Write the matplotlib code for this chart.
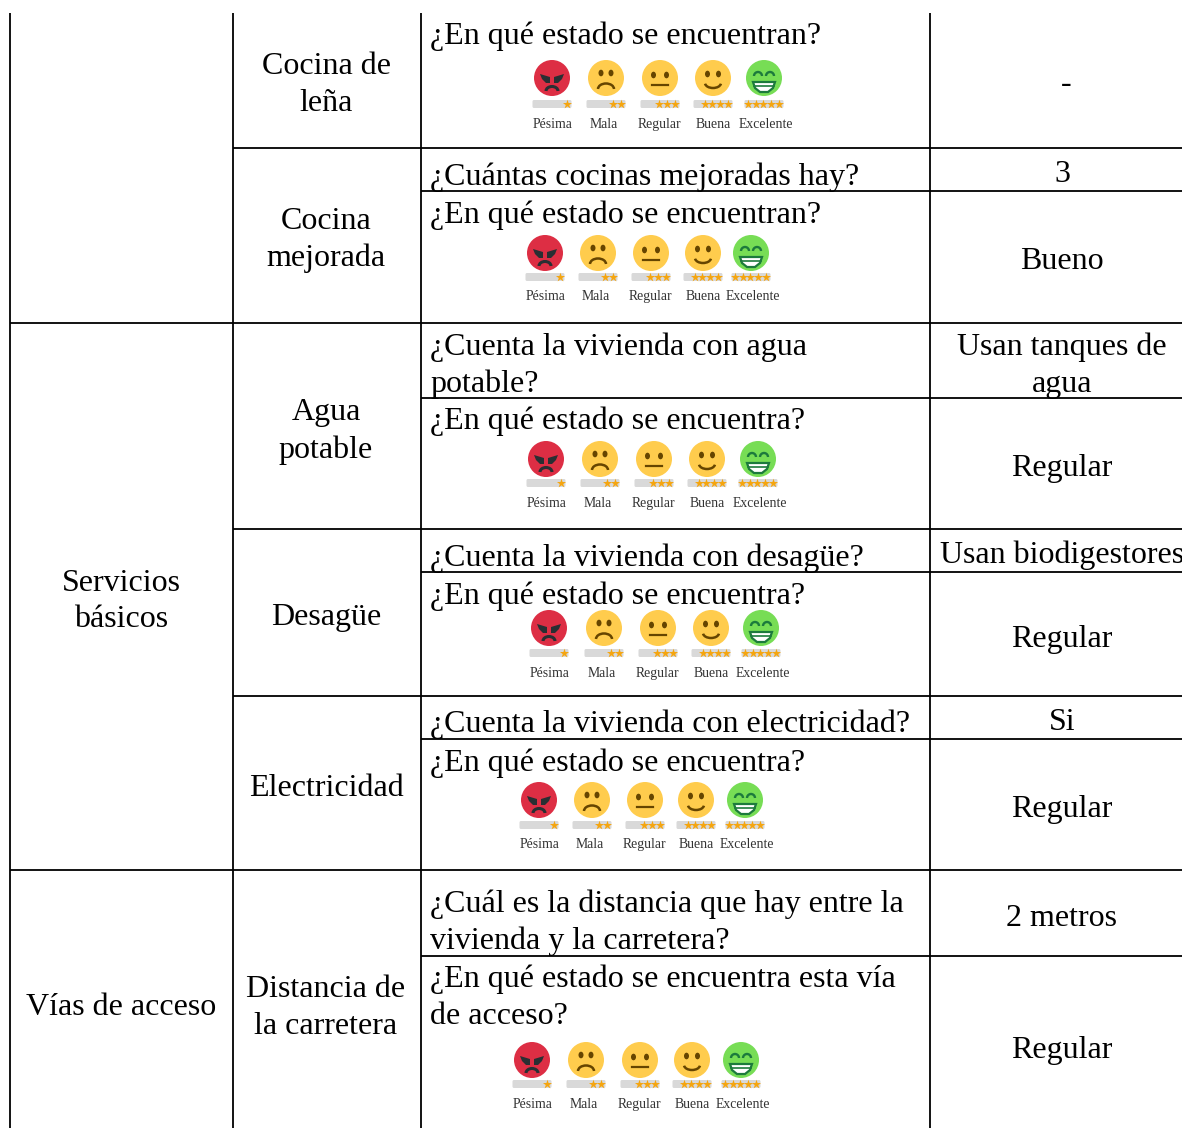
import matplotlib
matplotlib.use('Agg')
import matplotlib.pyplot as plt
from matplotlib.patches import Circle, Arc, Ellipse, FancyBboxPatch, Polygon

plt.rcParams['font.family'] = ['Liberation Serif', 'DejaVu Serif']

# textos de la tabla: (x, y, texto)
centered_cells = [
    (326, 63, 'Cocina de'), (326, 100, 'leña'),
    (326, 218, 'Cocina'), (326, 255, 'mejorada'),
    (326, 409, 'Agua'), (326, 447, 'potable'),
    (326, 614, 'Desagüe'), (326, 785, 'Electricidad'),
    (326, 986, 'Distancia de'), (326, 1023, 'la carretera'),
    (121, 580, 'Servicios'), (121, 616, 'básicos'),
    (121, 1004, 'Vías de acceso'),
    (1066, 81, '-'), (1062, 171, '3'), (1062, 258, 'Bueno'),
    (1062, 344, 'Usan tanques de'), (1062, 381, 'agua'),
    (1062, 465, 'Regular'), (1062, 552, 'Usan biodigestores'),
    (1062, 636, 'Regular'), (1062, 719, 'Si'),
    (1062, 806, 'Regular'), (1062, 915, '2 metros'),
    (1062, 1047, 'Regular'),
]
questions = [
    (33, '¿En qué estado se encuentran?'),
    (174, '¿Cuántas cocinas mejoradas hay?'),
    (212, '¿En qué estado se encuentran?'),
    (344, '¿Cuenta la vivienda con agua'),
    (381, 'potable?'),
    (418, '¿En qué estado se encuentra?'),
    (555, '¿Cuenta la vivienda con desagüe?'),
    (593, '¿En qué estado se encuentra?'),
    (721, '¿Cuenta la vivienda con electricidad?'),
    (760, '¿En qué estado se encuentra?'),
    (901, '¿Cuál es la distancia que hay entre la'),
    (938, 'vivienda y la carretera?'),
    (976, '¿En qué estado se encuentra esta vía'),
    (1013, 'de acceso?'),
]

# lineas de la tabla
v_lines = [(10, 13, 1128), (233, 13, 1128), (421, 13, 1128), (930, 13, 1128)]
h_lines = [(148, 233), (191, 421), (323, 10), (398, 421), (529, 233),
           (572, 421), (696, 233), (739, 421), (870, 10), (956, 421)]

# escalas de caritas: centros x, y de cara, y de barra, y de etiqueta
scale_xs = [
    [552, 606, 660, 713, 764],
    [545, 598, 651, 703, 751],
    [546, 600, 654, 707, 758],
    [549, 604, 658, 711, 761],
    [539, 592, 645, 696, 745],
    [532, 586, 640, 692, 741],
]
scale_face_y = [78, 253, 459, 628, 800, 1060]
scale_bar_y = [104, 277, 483, 653, 825, 1084]
scale_label_y = [124, 296, 503, 673, 844, 1104]
scale_labels = ['Pésima', 'Mala', 'Regular', 'Buena', 'Excelente']
label_shift = [1, -2, -1, 0, 2]
scale_stars = [1, 2, 3, 4, 5]

RED = '#DD2E44'
YELLOW = '#FFCC4D'
GREEN = '#77DD55'
BROWN = '#664500'
DARK = '#292F33'
DEEP = '#1C7A3C'
STAR = '#F5A50F'
BAR = '#D9D9D9'


def eyes(ax, x, y, dx):
    for sign in (-1, 1):
        ax.add_patch(Ellipse((x + sign * dx, y), 5, 6.6, fc=BROWN, ec='none', zorder=4))


def draw_face(ax, x, y, kind):
    fill = {0: RED, 4: GREEN}.get(kind, YELLOW)
    ax.add_patch(Circle((x, y), 18, fc=fill, ec='none', zorder=3))
    if kind == 0:
        # cejas enojadas y boca
        for sign in (-1, 1):
            ax.add_patch(Polygon([(x + sign * 12, y - 4), (x + sign * 2, y - 1), (x + sign * 2, y + 5),
                                  (x + sign * 6, y + 5), (x + sign * 10, y + 1)],
                                 fc=DARK, ec='none', zorder=4))
        ax.add_patch(Arc((x, y + 13), 12, 9, theta1=180, theta2=360, color=DARK, lw=2.2, zorder=4))
    elif kind == 1:
        eyes(ax, x, y - 5, 5)
        ax.add_patch(Arc((x, y + 11), 16, 11, theta1=180, theta2=360, color=BROWN, lw=1.8, zorder=4))
    elif kind == 2:
        eyes(ax, x, y - 3, 6.5)
        ax.plot([x - 8, x + 8], [y + 7, y + 7], color=BROWN, lw=1.6, zorder=4)
    elif kind == 3:
        eyes(ax, x, y - 4, 5.5)
        ax.add_patch(Arc((x, y + 5), 16, 10, theta1=5, theta2=175, color=BROWN, lw=1.8, zorder=4))
    else:
        for sign in (-1, 1):
            ax.add_patch(Arc((x + sign * 6, y - 2), 8, 8, theta1=180, theta2=360, color=DEEP, lw=1.7, zorder=4))
        ax.add_patch(Polygon([(x - 11, y + 4), (x + 11, y + 4), (x + 9, y + 10), (x + 4, y + 14),
                              (x - 4, y + 14), (x - 9, y + 10)], fc='white', ec=DEEP, lw=1.6, zorder=4))
        ax.plot([x - 10, x + 10], [y + 8, y + 8], color=DEEP, lw=1.2, zorder=5)


fig = plt.figure(figsize=(11.82, 11.28), dpi=100)
ax = fig.add_axes([0, 0, 1, 1])
ax.set_xlim(0, 1182)
ax.set_ylim(1128, 0)
ax.axis('off')

for x, y0, y1 in v_lines:
    ax.plot([x, x], [y0, y1], color='black', lw=1.3, solid_capstyle='butt')
for y, x0 in h_lines:
    ax.plot([x0, 1182], [y, y], color='black', lw=1.3, solid_capstyle='butt')

for x, y, s in centered_cells:
    ax.text(x, y, s, ha='center', va='center_baseline', fontsize=23, color='black')
for y, s in questions:
    ax.text(430, y, s, ha='left', va='center_baseline', fontsize=23, color='black')

for xs, fy, by, ly in zip(scale_xs, scale_face_y, scale_bar_y, scale_label_y):
    for i, x in enumerate(xs):
        draw_face(ax, x, fy, i)
        ax.add_patch(FancyBboxPatch((x - 19.5, by - 4), 39, 8, boxstyle='round,pad=0,rounding_size=1.5',
                                    fc=BAR, ec='none', zorder=3))
        star_x = [x + 15 - 7.8 * k for k in range(scale_stars[i])]
        ax.scatter(star_x, [by] * len(star_x), marker='*', s=48, color=STAR, linewidths=0, zorder=4)
        ax.text(x + label_shift[i], ly + 4, scale_labels[i], ha='center', va='baseline',
                fontsize=9.9, color='#333333')

fig.savefig('out.png', dpi=100)
